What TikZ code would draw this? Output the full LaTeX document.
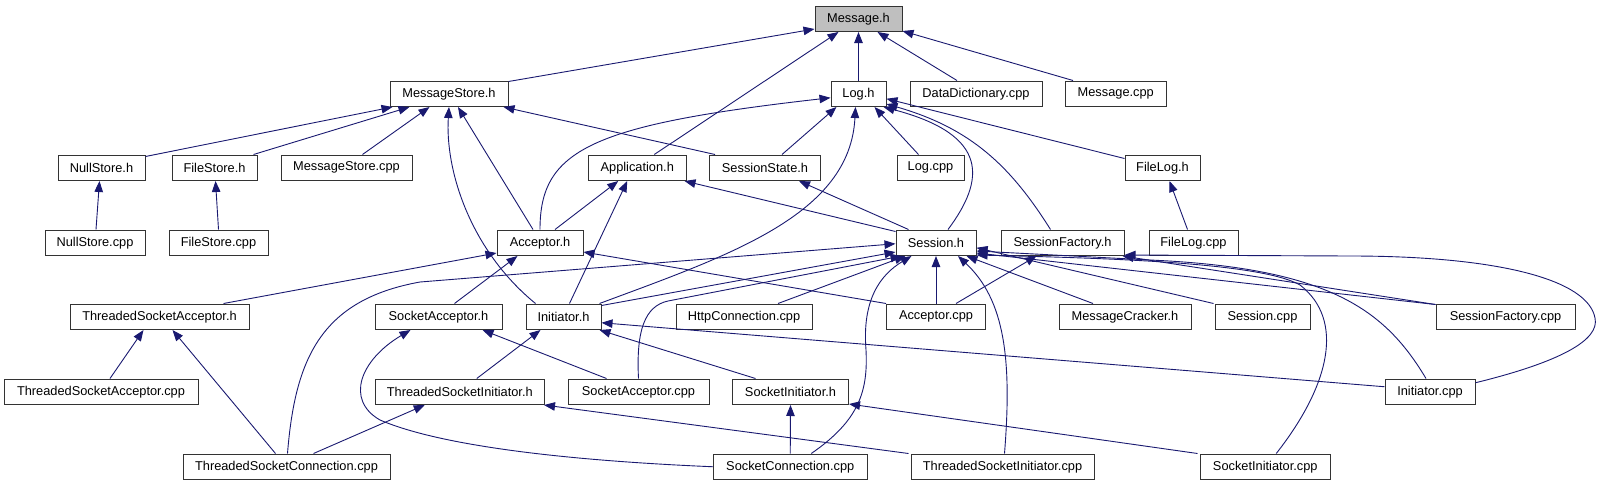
\documentclass[tikz,border=0pt]{standalone}
\usepackage{fontspec}
\setmainfont{Liberation Sans}
\usetikzlibrary{arrows.meta,calc}
\definecolor{edgeblue}{HTML}{191970}
\definecolor{rootgray}{HTML}{BFBFBF}
\definecolor{boxline}{HTML}{333333}
\begin{document}
\begin{tikzpicture}[x=1pt,y=-1pt,
  box/.style={draw=boxline, line width=1pt, fill=white, inner sep=0pt, minimum height=25.5pt,
              font=\fontsize{12.8}{14}\selectfont, text=black},
  root/.style={box, fill=rootgray},
  edge/.style={draw=edgeblue, line width=0.9pt, -{Triangle[length=11pt,width=8.5pt]}}]
\useasboundingbox (0,0) rectangle (1601,485);
% row 1
\node[root, minimum width=87pt] (msg) at (858.5,18.75) {Message.h};
% row 2
\node[box, minimum width=118pt] (msh) at (449,93.75) {MessageStore.h};
\node[box, minimum width=55pt] (logh) at (858.5,93.75) {Log.h};
\node[box, minimum width=132pt] (ddc) at (976,93.75) {DataDictionary.cpp};
\node[box, minimum width=100.5pt] (mcpp) at (1115.75,93.75) {Message.cpp};
% row 3
\node[box, minimum width=87pt] (nsh) at (101.5,167.75) {NullStore.h};
\node[box, minimum width=85pt] (fsh) at (214.5,167.75) {FileStore.h};
\node[box, minimum width=131pt] (mscpp) at (346.5,167.75) {MessageStore.cpp};
\node[box, minimum width=97.5pt] (apph) at (637.25,167.75) {Application.h};
\node[box, minimum width=111pt] (ssh) at (765,167.75) {SessionState.h};
\node[box, minimum width=67pt] (logcpp) at (930.5,167.75) {Log.cpp};
\node[box, minimum width=75pt] (flh) at (1162.5,167.75) {FileLog.h};
% row 4
\node[box, minimum width=100pt] (nscpp) at (95,242.75) {NullStore.cpp};
\node[box, minimum width=99pt] (fscpp) at (218.5,242.75) {FileStore.cpp};
\node[box, minimum width=86pt] (acch) at (540,242.75) {Acceptor.h};
\node[box, minimum width=80pt] (sessh) at (936,242.75) {Session.h};
\node[box, minimum width=123pt] (sfh) at (1062.5,242.75) {SessionFactory.h};
\node[box, minimum width=89pt] (flcpp) at (1193.5,242.75) {FileLog.cpp};
% row 5
\node[box, minimum width=179pt] (tsah) at (159.5,316.75) {ThreadedSocketAcceptor.h};
\node[box, minimum width=127pt] (sah) at (438.5,316.75) {SocketAcceptor.h};
\node[box, minimum width=75pt] (inih) at (563.5,316.75) {Initiator.h};
\node[box, minimum width=136pt] (http) at (744,316.75) {HttpConnection.cpp};
\node[box, minimum width=99pt] (acccpp) at (936,316.75) {Acceptor.cpp};
\node[box, minimum width=132pt] (mch) at (1125,316.75) {MessageCracker.h};
\node[box, minimum width=95pt] (sesscpp) at (1262.5,316.75) {Session.cpp};
\node[box, minimum width=139pt] (sfcpp) at (1505.5,316.75) {SessionFactory.cpp};
% row 6
\node[box, minimum width=194pt] (tsacpp) at (101,391.75) {ThreadedSocketAcceptor.cpp};
\node[box, minimum width=169.5pt] (tsih) at (459.75,391.75) {ThreadedSocketInitiator.h};
\node[box, minimum width=141pt] (sacpp) at (638.5,391.75) {SocketAcceptor.cpp};
\node[box, minimum width=116pt] (sih) at (790.5,391.75) {SocketInitiator.h};
\node[box, minimum width=90pt] (inicpp) at (1430,391.75) {Initiator.cpp};
% row 7
\node[box, minimum width=207pt] (tsccpp) at (286.5,466.75) {ThreadedSocketConnection.cpp};
\node[box, minimum width=153.5pt] (sccpp) at (790.25,466.75) {SocketConnection.cpp};
\node[box, minimum width=183pt] (tsicpp) at (1002.5,466.75) {ThreadedSocketInitiator.cpp};
\node[box, minimum width=130.5pt] (sicpp) at (1265.25,466.75) {SocketInitiator.cpp};

% edges into Message.h
\draw[edge] ($(msh.north east)+(0,1)$) -- ($(msg.south west)+(0,-3)$);
\draw[edge] ($(apph.north)+(17,0)$) -- ($(msg.south west)+(24,0)$);
\draw[edge] (logh.north) -- (msg.south);
\draw[edge] ($(ddc.north)+(-19,0)$) -- ($(msg.south)+(19,0)$);
\draw[edge] ($(mcpp.north west)+(8,0)$) -- ($(msg.south east)+(0,-1)$);
% edges into MessageStore.h
\draw[edge] ($(nsh.north east)+(0,2)$) -- ($(msh.south west)+(3,0)$);
\draw[edge] ($(fsh.north east)+(-4,0)$) -- ($(msh.south west)+(20,0)$);
\draw[edge] ($(mscpp.north)+(16,0)$) -- ($(msh.south west)+(40,0)$);
\draw[edge] ($(inih.north)+(-28,0)$) .. controls (470,250) and (445,170) .. (msh.south);
\draw[edge] ($(acch.north)+(-7,0)$) -- ($(msh.south)+(9,0)$);
\draw[edge] ($(ssh.north west)+(6,0)$) -- ($(msh.south east)+(-5,0)$);
\draw[edge] ($(nscpp.north)+(1,0)$) -- ($(nsh.south)+(-2,0)$);
\draw[edge] (fscpp.north) -- ($(fsh.south)+(1,0)$);
% edges into Log.h
\draw[edge] (acch.north) .. controls (540,150) and (590,125) .. ($(logh.west)+(0,4)$);
\draw[edge] ($(ssh.north)+(17,0)$) -- ($(logh.south west)+(6,0)$);
\draw[edge] ($(inih.north east)+(-2,0)$) .. controls (730,255) and (850,215) .. ($(logh.south)+(-3,0)$);
\draw[edge] ($(logcpp.north west)+(22,0)$) -- ($(logh.south east)+(-12,0)$);
\draw[edge] ($(sessh.north)+(12,0)$) .. controls (985,180) and (990,135) .. ($(logh.south east)+(-3,0)$);
\draw[edge] ($(sfh.north)+(-12,0)$) .. controls (1010,165) and (970,128) .. ($(logh.south east)+(0,-3)$);
\draw[edge] ($(flh.north west)+(0,4)$) -- ($(logh.east)+(0,5)$);
\draw[edge] ($(flcpp.north)+(-6,0)$) -- ($(flh.south)+(7,0)$);
% edges into Application.h / SessionState.h
\draw[edge] ($(acch.north)+(15,0)$) -- ($(apph.south)+(-19,0)$);
\draw[edge] ($(inih.north)+(6,0)$) -- ($(apph.south)+(-10,0)$);
\draw[edge] ($(sessh.north west)+(0,2)$) -- ($(apph.south east)+(-2,0)$);
\draw[edge] ($(sessh.north west)+(13,0)$) -- ($(ssh.south)+(34,0)$);
% edges into Acceptor.h
\draw[edge] ($(tsah.north)+(64,0)$) -- ($(acch.south west)+(0,-3)$);
\draw[edge] ($(sah.north)+(16,0)$) -- ($(acch.south west)+(21,0)$);
\draw[edge] (acccpp.north west) -- ($(acch.south east)+(0,-4)$);
% edges into Session.h
\draw[edge] ($(tsccpp.north)+(1,0)$) .. controls (295,360) and (320,300) .. (420,282) -- ($(sessh.west)+(0,1)$);
\draw[edge] ($(inih.north east)+(0,2)$) -- ($(sessh.south west)+(0,-4)$);
\draw[edge] (sacpp.north) .. controls (636,330) and (645,306) .. (668,301) -- ($(sessh.south west)+(6,0)$);
\draw[edge] ($(http.north)+(34,0)$) -- ($(sessh.south west)+(10,0)$);
\draw[edge] (acccpp.north) -- (sessh.south);
\draw[edge] ($(mch.north)+(-32,0)$) -- ($(sessh.south east)+(-10,0)$);
\draw[edge] ($(sesscpp.north west)+(-1,0)$) -- ($(sessh.east)+(0,5)$);
\draw[edge] ($(sfcpp.north west)+(0,1)$) -- ($(sessh.south east)+(0,-3)$);
\draw[edge] ($(inicpp.north)+(-4,0)$) .. controls (1385,310) and (1330,268) .. (1150,260) -- ($(sessh.south east)+(0,-5)$);
\draw[edge] ($(tsicpp.north)+(2,0)$) .. controls (1012,360) and (1005,300) .. ($(sessh.south)+(22,0)$);
\draw[edge] ($(sicpp.north)+(11,0)$) .. controls (1330,385) and (1345,320) .. (1300,285) .. controls (1260,262) and (1100,258) .. ($(sessh.south east)+(0,-1)$);
\draw[edge] ($(sccpp.north)+(21,0)$) .. controls (860,420) and (868,390) .. (866,350) .. controls (862,300) and (880,275) .. ($(sessh.south west)+(16,0)$);
% edges into SessionFactory.h
\draw[edge] ($(acccpp.north east)+(-30,0)$) -- ($(sfh.south west)+(36,0)$);
\draw[edge] ($(sfcpp.north west)+(0,1)$) -- ($(sfh.south east)+(-2,0)$);
\draw[edge] ($(inicpp.east)+(0,-9)$) .. controls (1560,362) and (1600,340) .. (1595,318) .. controls (1588,280) and (1500,256) .. (1350,256) -- ($(sfh.south east)+(0,-1)$);
% edges into Initiator.h
\draw[edge] ($(tsih.north)+(17,0)$) -- ($(inih.south)+(-23,0)$);
\draw[edge] ($(sih.north)+(-35,0)$) -- ($(inih.south east)+(-2,0)$);
\draw[edge] ($(inicpp.west)+(0,-5)$) -- ($(inih.east)+(0,6)$);
% edges into SocketAcceptor.h
\draw[edge] ($(sacpp.north west)+(39,0)$) -- ($(sah.south east)+(-20,0)$);
\draw[edge] (sccpp.west) .. controls (600,462) and (450,450) .. (380,420) .. controls (345,400) and (360,360) .. ($(sah.south)+(-28,0)$);
% edges into ThreadedSocketAcceptor.h
\draw[edge] ($(tsacpp.north)+(9,0)$) -- ($(tsah.south)+(-16,0)$);
\draw[edge] ($(tsccpp.north)+(-11,0)$) -- ($(tsah.south)+(13,0)$);
% edges into ThreadedSocketInitiator.h
\draw[edge] ($(tsccpp.north)+(27,0)$) -- ($(tsih.south)+(-35,0)$);
\draw[edge] ($(tsicpp.north west)+(-2,0)$) -- ($(tsih.south east)+(-1,0)$);
% edges into SocketInitiator.h
\draw[edge] (sccpp.north) -- (sih.south);
\draw[edge] ($(sicpp.north west)+(-2,0)$) -- ($(sih.south east)+(0,-1)$);
\end{tikzpicture}
\end{document}
